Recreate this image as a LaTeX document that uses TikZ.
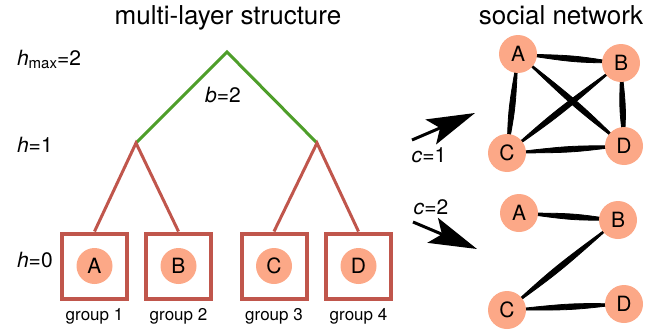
\documentclass[tikz,border=0pt]{standalone}
\usepackage{fontspec}
\setmainfont{TeX Gyre Heros}
\usetikzlibrary{arrows.meta,calc,backgrounds}
\definecolor{treered}{RGB}{192,86,76}
\definecolor{treegreen}{RGB}{78,158,42}
\definecolor{personfill}{RGB}{252,168,135}

% spindle shaped tie between two people
\newcommand{\tie}[2]{\fill[draw, line width=0.4pt] (#1.center) .. controls ($(#1.center)!0.55!(#2.center)!1.8pt!90:(#2.center)$) .. (#2.center) .. controls ($(#1.center)!0.55!(#2.center)!1.8pt!-90:(#2.center)$) .. (#1.center) -- cycle;}

\begin{document}
\begin{tikzpicture}[x=0.5pt, y=-0.5pt,
    person/.style={circle, fill=personfill, minimum size=18pt, inner sep=0pt, font=\fontsize{10.5}{12}\selectfont},
    member/.style={person, minimum size=19pt},
    groupbox/.style={draw=treered, line width=2pt, minimum size=32.5pt, inner sep=0pt},
    level/.style={anchor=base west, font=\fontsize{10.5}{12}\selectfont},
    label/.style={anchor=base, font=\fontsize{10.5}{12}\selectfont},
    caption/.style={anchor=base, font=\fontsize{8.5}{10}\selectfont},
    heading/.style={anchor=base, font=\fontsize{13}{15}\selectfont},
    bigarrow/.style={-{Stealth[length=24pt, width=13.5pt, inset=5pt]}, line width=1.5pt}]
\useasboundingbox (0,0) rectangle (648,332);

% headings
\node[heading] (title1) at (228,24.5) {multi-layer structure};
\node[heading] (title2) at (561,24.5) {social network};

% levels
\node[level] (hmax) at (10,65) {\textit{h}\raisebox{-0.35ex}{\fontsize{7.5}{8}\selectfont max}=2};
\node[level] (h1) at (10,152) {\textit{h}=1};
\node[level] (h0) at (10,267) {\textit{h}=0};

% tree
\coordinate (root) at (227,52);
\coordinate (left) at (136,143);
\coordinate (right) at (317,143);
\node[groupbox] (box1) at (94.5,266) {};
\node[groupbox] (box2) at (178.5,266) {};
\node[groupbox] (box3) at (274,266) {};
\node[groupbox] (box4) at (358.5,266) {};
\node[person] (ga) at (box1) {A};
\node[person] (gb) at (box2) {B};
\node[person] (gc) at (box3) {C};
\node[person] (gd) at (box4) {D};
\draw[treegreen, line width=1.5pt] (left) -- (root) -- (right);
\draw[treered, line width=1.5pt] (box1.north) -- (left) -- (box2.north);
\draw[treered, line width=1.5pt] (box3.north) -- (right) -- (box4.north);
\node[label] (b) at (223,102) {\textit{b}=2};
\node[caption] at (94.5,320) {group 1};
\node[caption] at (178.5,320) {group 2};
\node[caption] at (274,320) {group 3};
\node[caption] at (358.5,320) {group 4};

% arrows
\coordinate (c1s) at (412,140);
\coordinate (c1e) at (475,113);
\coordinate (c2s) at (413,222);
\coordinate (c2e) at (477,249);
\draw[bigarrow] (c1s) -- (c1e);
\draw[bigarrow] (c2s) -- (c2e);
\node[label] (c1) at (429,162) {\textit{c}=1};
\node[label] (c2) at (431,214) {\textit{c}=2};

% network for c=1
\node[member] (na) at (518,54) {A};
\node[member] (nb) at (621,63) {B};
\node[member] (nc) at (507,153) {C};
\node[member] (nd) at (624,146) {D};
% network for c=2
\node[member] (ma) at (519,213) {A};
\node[member] (mb) at (618,220) {B};
\node[member] (mc) at (507,310) {C};
\node[member] (md) at (624,304) {D};

\begin{scope}[on background layer]
\tie{na}{nb} \tie{na}{nc} \tie{na}{nd}
\tie{nb}{nc} \tie{nb}{nd} \tie{nc}{nd}
\tie{ma}{mb} \tie{mb}{mc} \tie{mc}{md}
\end{scope}
\end{tikzpicture}
\end{document}
